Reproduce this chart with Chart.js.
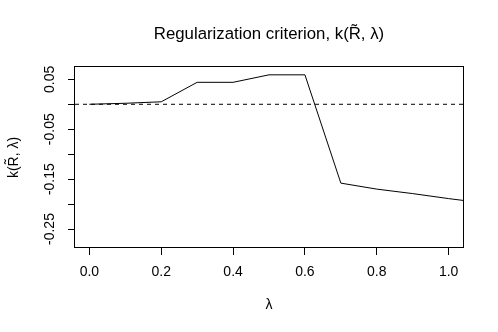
<!DOCTYPE html>
<html>
<head>
<meta charset="utf-8">
<script src="https://cdn.jsdelivr.net/npm/chart.js@4"></script>
<style>
  html, body { margin: 0; padding: 0; background: #fff; }
  canvas { display: block; }
</style>
</head>
<body>
<canvas id="criterion" width="498" height="332"></canvas>
<script>
// values
var lambdas = [0.0, 0.1, 0.2, 0.3, 0.4, 0.5, 0.6, 0.7, 0.8, 0.9, 1.0, 1.1];
var criterion = [0.0, 0.002, 0.005, 0.044, 0.044, 0.059, 0.059, -0.158, -0.170, -0.179, -0.189, -0.198];
var refLevel = 0;

var xTicks = [0.0, 0.2, 0.4, 0.6, 0.8, 1.0];
var yTicks = [-0.25, -0.20, -0.15, -0.10, -0.05, 0.0, 0.05];
var yTickLabels = [0.05, -0.05, -0.15, -0.25];
var xLimits = [-0.04, 1.04];
var yLimits = [-0.288, 0.0747];

var mainTitle = 'Regularization criterion, k(R\u0303, \u03bb)';
var xTitle = '\u03bb';
var yTitle = 'k(R\u0303, \u03bb)';

Chart.defaults.font.family = '"Liberation Sans", Arial, Helvetica, sans-serif';
Chart.defaults.font.size = 14;
Chart.defaults.color = '#000';

// R style: full box round the plot and a plain title centred on the plot region
var boxAndTitle = {
  id: 'boxAndTitle',
  afterDraw: function (chart) {
    var a = chart.chartArea;
    var ctx = chart.ctx;
    ctx.save();
    ctx.strokeStyle = '#000';
    ctx.lineWidth = 1;
    ctx.strokeRect(Math.round(a.left) - 0.5, Math.round(a.top) - 0.5,
      Math.round(a.right - a.left) + 1, Math.round(a.bottom - a.top));
    ctx.fillStyle = '#000';
    ctx.font = '16.8px "Liberation Sans", Arial, sans-serif';
    ctx.textAlign = 'center';
    ctx.textBaseline = 'alphabetic';
    ctx.fillText(mainTitle, (a.left + a.right) / 2, 39);
    ctx.restore();
  }
};

var tickGrid = {
  display: true,
  drawOnChartArea: false,
  drawTicks: true,
  tickLength: 7,
  tickColor: '#000',
  tickWidth: 1
};

var chart = new Chart(document.getElementById('criterion'), {
  type: 'line',
  data: {
    datasets: [{
      data: lambdas.map(function (x, i) { return { x: x, y: criterion[i] }; }),
      borderColor: '#000',
      borderWidth: 1,
      pointRadius: 0,
      tension: 0
    }, {
      data: xLimits.map(function (x) { return { x: x, y: refLevel }; }),
      borderColor: '#000',
      borderWidth: 1,
      borderDash: [4, 4],
      pointRadius: 0
    }]
  },
  options: {
    responsive: false,
    animation: false,
    layout: { padding: { top: 67, right: 35, left: 0, bottom: 0 } },
    plugins: {
      legend: { display: false },
      tooltip: { enabled: false }
    },
    scales: {
      x: {
        type: 'linear',
        min: xLimits[0],
        max: xLimits[1],
        afterBuildTicks: function (axis) {
          axis.ticks = xTicks.map(function (v) { return { value: v }; });
        },
        afterFit: function (axis) { axis.height = 84; },
        grid: tickGrid,
        border: { display: false },
        ticks: {
          autoSkip: false,
          maxRotation: 0,
          padding: 9,
          callback: function (v) { return v.toFixed(1); }
        },
        title: {
          display: true,
          text: xTitle,
          padding: { top: 0, bottom: 18 }
        }
      },
      y: {
        type: 'linear',
        min: yLimits[0],
        max: yLimits[1],
        afterBuildTicks: function (axis) {
          axis.ticks = yTicks.map(function (v) { return { value: v }; });
        },
        afterFit: function (axis) { axis.width = 75; },
        grid: tickGrid,
        border: { display: false },
        ticks: {
          autoSkip: false,
          minRotation: 90,
          maxRotation: 90,
          crossAlign: 'center',
          padding: 2,
          callback: function (v) {
            var shown = yTickLabels.some(function (t) { return Math.abs(t - v) < 1e-9; });
            return shown ? v.toFixed(2) : '';
          }
        },
        title: {
          display: true,
          text: yTitle,
          padding: { top: 5.5, bottom: 0 }
        }
      }
    }
  },
  plugins: [boxAndTitle]
});
</script>
</body>
</html>
